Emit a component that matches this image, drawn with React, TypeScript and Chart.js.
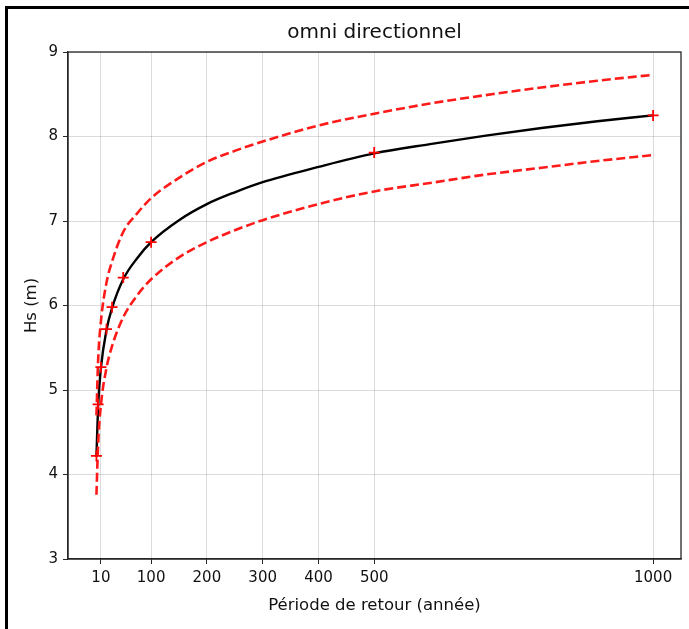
import React, { useEffect, useRef } from "react";
import { Chart, registerables } from "chart.js";

Chart.register(...registerables);

const titleText = "omni directionnel";
const xTitle = "Période de retour (année)";
const yTitle = "Hs (m)";

const periods = [2, 5, 10, 20, 30, 50, 75, 100, 150, 200, 250, 300, 400, 500, 600, 700, 800, 900, 1000];
const hsFit = [4.21, 4.81, 5.26, 5.71, 5.97, 6.31, 6.56, 6.75, 7.01, 7.2, 7.34, 7.46, 7.64, 7.8, 7.91, 8.01, 8.1, 8.18, 8.25];
const hsUpper = [4.7, 5.35, 5.81, 6.27, 6.52, 6.87, 7.09, 7.27, 7.51, 7.7, 7.83, 7.94, 8.13, 8.27, 8.39, 8.49, 8.58, 8.66, 8.73];
const hsLower = [3.76, 4.36, 4.82, 5.26, 5.52, 5.86, 6.12, 6.31, 6.57, 6.75, 6.89, 7.01, 7.2, 7.35, 7.45, 7.55, 7.63, 7.71, 7.78];

const obsPeriods = [2, 5, 10, 20, 30, 50, 100, 500, 1000];
const obsHs = [4.22, 4.83, 5.27, 5.72, 5.98, 6.33, 6.75, 7.81, 8.25];

const xTicks = [10, 100, 200, 300, 400, 500, 1000];
const yMin = 3;
const yMax = 9;

const FONT = '"DejaVu Sans", sans-serif';

const decor = {
  id: "decor",
  afterDraw(chart: any) {
    const { ctx, chartArea: a } = chart;
    ctx.save();
    ctx.strokeStyle = "#262626";
    ctx.lineWidth = 1.3;
    ctx.strokeRect(a.left, a.top, a.right - a.left, a.bottom - a.top);
    ctx.fillStyle = "#111";
    ctx.textAlign = "center";
    ctx.textBaseline = "middle";
    ctx.font = `20px ${FONT}`;
    ctx.fillText(titleText, (a.left + a.right) / 2, 33);
    ctx.font = `16.5px ${FONT}`;
    ctx.fillText(xTitle, (a.left + a.right) / 2, 606);
    ctx.translate(32, (a.top + a.bottom) / 2);
    ctx.rotate(-Math.PI / 2);
    ctx.fillText(yTitle, 0, 0);
    ctx.restore();
  },
};

export default function App() {
  const ref = useRef<HTMLCanvasElement | null>(null);
  useEffect(() => {
    if (!ref.current) return;
    const pts = (xs: number[], ys: number[]) => xs.map((x, i) => ({ x, y: ys[i] }));
    const chart = new Chart(ref.current, {
      type: "line",
      data: {
        datasets: [
          {
            data: pts(obsPeriods, obsHs),
            showLine: false,
            pointStyle: "cross",
            pointRadius: 5.5,
            pointBorderWidth: 1.8,
            pointBorderColor: "#ff0000",
            borderColor: "#ff0000",
            order: 0,
          },
          {
            data: pts(periods, hsUpper),
            borderColor: "#ff1a1a",
            borderWidth: 2.6,
            borderDash: [9, 4],
            pointRadius: 0,
            tension: 0.4,
            cubicInterpolationMode: "monotone",
            order: 1,
          },
          {
            data: pts(periods, hsLower),
            borderColor: "#ff1a1a",
            borderWidth: 2.6,
            borderDash: [9, 4],
            pointRadius: 0,
            tension: 0.4,
            cubicInterpolationMode: "monotone",
            order: 1,
          },
          {
            data: pts(periods, hsFit),
            borderColor: "#000000",
            borderWidth: 2.4,
            pointRadius: 0,
            tension: 0.4,
            cubicInterpolationMode: "monotone",
            order: 2,
          },
        ],
      },
      options: {
        animation: false,
        responsive: false,
        devicePixelRatio: 1,
        layout: { padding: { top: 52, right: 8, left: 0, bottom: 0 } },
        plugins: { legend: { display: false }, tooltip: { enabled: false }, title: { display: false } },
        scales: {
          x: {
            type: "linear",
            min: -49,
            max: 1050,
            afterBuildTicks: (s: any) => {
              s.ticks = xTicks.map((v) => ({ value: v }));
            },
            afterFit: (s: any) => {
              s.height = 70;
            },
            ticks: {
              autoSkip: false,
              maxRotation: 0,
              padding: 5,
              color: "#111",
              font: { family: FONT, size: 15 },
              callback: (v: any) => String(v),
            },
            grid: { color: "rgba(0,0,0,0.14)", tickColor: "#262626", tickLength: 5, lineWidth: 1 },
            border: { display: true, color: "#262626", width: 1.3 },
          },
          y: {
            type: "linear",
            min: yMin,
            max: yMax,
            afterFit: (s: any) => {
              s.width = 68;
            },
            ticks: {
              stepSize: 1,
              padding: 5,
              color: "#111",
              font: { family: FONT, size: 15 },
            },
            grid: { color: "rgba(0,0,0,0.14)", tickColor: "#262626", tickLength: 5, lineWidth: 1 },
            border: { display: true, color: "#262626", width: 1.3 },
          },
        },
      },
      plugins: [decor],
    });
    return () => chart.destroy();
  }, []);

  return (
    <div style={{ position: "fixed", left: 0, top: 0, width: 689, height: 629, background: "#fff", overflow: "hidden" }}>
      <canvas ref={ref} width={689} height={629} style={{ display: "block" }} />
      <div
        style={{
          position: "absolute",
          left: 5,
          top: 6,
          right: -10,
          bottom: -10,
          borderLeft: "3px solid #000",
          borderTop: "3px solid #000",
          pointerEvents: "none",
        }}
      />
    </div>
  );
}
